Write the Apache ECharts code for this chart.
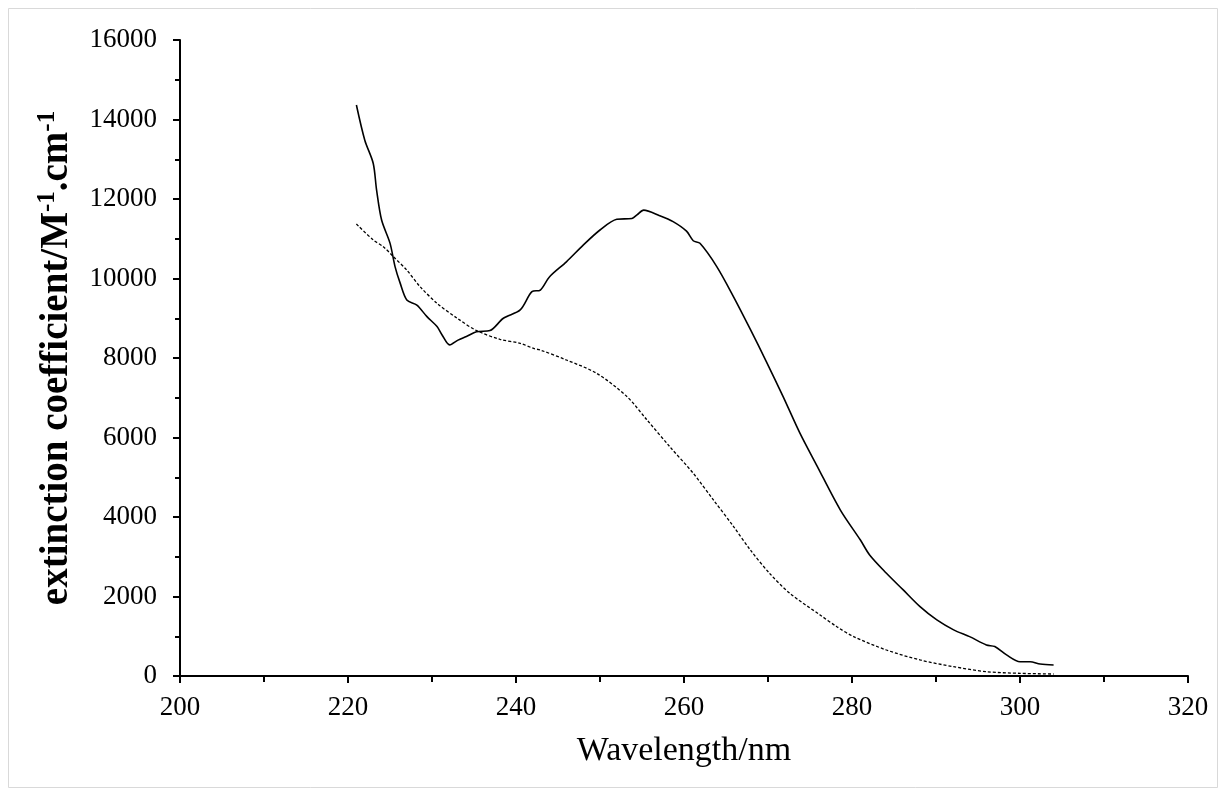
<!DOCTYPE html>
<html>
<head>
<meta charset="utf-8">
<script src="https://cdn.jsdelivr.net/npm/echarts@6/dist/echarts.min.js"></script>
<style>
html,body{margin:0;padding:0;background:#fff;}
#chart{width:1226px;height:796px;}
</style>
</head>
<body>
<div id="chart"></div>
<script>
// Solid curve (wavelength nm, extinction coefficient)
const wlSolid = [221.0,222.0,223.0,223.4,224.0,225.0,225.6,226.2,227.0,228.2,229.4,230.6,231.2,232.1,233.1,234.1,235.3,236.9,238.5,240.5,241.9,242.9,244.0,246.0,248.0,250.0,252.0,253.8,254.4,255.2,257.1,258.7,260.3,261.1,261.9,263.9,265.9,267.9,269.8,271.8,273.8,275.8,278.6,281.0,282.1,284.1,286.1,288.1,290.1,292.1,294.0,296.0,297.0,298.4,300.0,301.2,302.4,304.0];
const epsSolid = [14365,13480,12900,12230,11470,10890,10300,9890,9460,9330,9040,8790,8580,8330,8450,8540,8660,8690,9000,9210,9670,9710,10045,10420,10840,11220,11490,11510,11600,11720,11580,11430,11190,10950,10885,10300,9540,8720,7910,7030,6110,5300,4180,3420,3045,2585,2165,1745,1410,1160,990,780,740,530,360,360,300,277];
// Dashed curve
const wlDashed = [221.0,223.0,224.2,225.4,227.0,228.6,230.6,233.0,235.3,238.1,240.5,242.1,242.9,246.0,249.6,253.2,255.6,258.3,261.1,263.5,265.9,267.9,270.2,272.6,276.2,278.2,280.2,284.1,288.1,292.1,296.0,300.0,304.0];
const epsDashed = [11370,10970,10800,10550,10210,9790,9375,9000,8690,8470,8370,8240,8200,7950,7615,7030,6440,5770,5100,4430,3760,3170,2580,2080,1535,1240,990,654,403,234,109,67,50];

const xTitle = 'Wavelength/nm';
const yTitle = 'extinction coefficient/M{sup|-1}.cm{sup|-1}';

const font = '"Liberation Serif", "Times New Roman", serif';
const chart = echarts.init(document.getElementById('chart'), null, {renderer:'canvas'});

function pairs(xs, ys){ return xs.map((x,i)=>[x, ys[i]]); }

chart.setOption({
  animation:false,
  backgroundColor:'#ffffff',
  graphic:[{
    type:'rect', shape:{x:8.5,y:8.5,width:1209,height:779},
    style:{fill:'none', stroke:'#d9d9d9', lineWidth:1}, silent:true, z:-1
  }],
  grid:{left:180, right:38, top:40, bottom:120, containLabel:false},
  xAxis:{
    type:'value', min:200, max:320, interval:20,
    axisLine:{show:true, onZero:false, lineStyle:{color:'#000', width:2}},
    axisTick:{show:true, inside:false, length:7, lineStyle:{color:'#000', width:2}},
    minorTick:{show:true, splitNumber:2, length:6, lineStyle:{color:'#000', width:2}},
    splitLine:{show:false},
    axisLabel:{color:'#000', fontFamily:font, fontSize:27, margin:18, formatter:function(v){return String(v);}},
    name:xTitle, nameLocation:'middle', nameGap:58,
    nameTextStyle:{color:'#000', fontFamily:font, fontSize:34}
  },
  yAxis:{
    type:'value', min:0, max:16000, interval:2000,
    axisLine:{show:true, lineStyle:{color:'#000', width:2}},
    axisTick:{show:true, inside:false, length:7, lineStyle:{color:'#000', width:2}},
    minorTick:{show:true, splitNumber:2, length:5, lineStyle:{color:'#000', width:2}},
    splitLine:{show:false},
    axisLabel:{color:'#000', fontFamily:font, fontSize:27, margin:23, formatter:function(v){return String(v);}},
    name:yTitle, nameLocation:'middle', nameGap:92, nameRotate:90,
    nameTextStyle:{
      color:'#000', fontFamily:font, fontSize:39, fontWeight:'bold', lineHeight:44,
      rich:{
        sup:{color:'#000', fontFamily:font, fontSize:25, fontWeight:'bold', verticalAlign:'top', lineHeight:44, padding:[0,0,16,0]}
      }
    }
  },
  series:[
    {
      type:'line', data:pairs(wlSolid, epsSolid), showSymbol:false, smooth:0.3,
      lineStyle:{color:'#000', width:1.6, type:'solid'}
    },
    {
      type:'line', data:pairs(wlDashed, epsDashed), showSymbol:false, smooth:0.3,
      lineStyle:{color:'#000', width:1.3, type:[3,2]}
    }
  ]
});
</script>
</body>
</html>
